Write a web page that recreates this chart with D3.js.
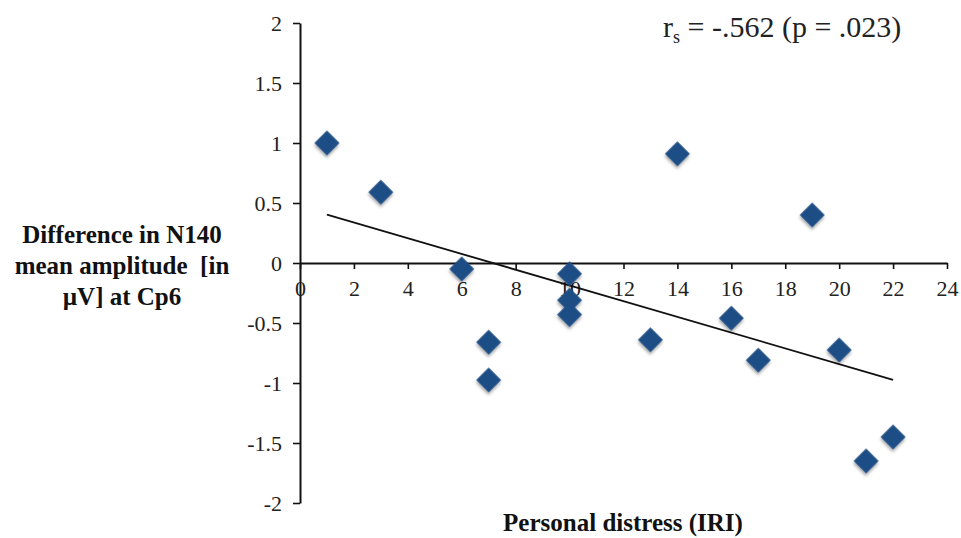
<!DOCTYPE html>
<html>
<head>
<meta charset="utf-8">
<script src="https://cdn.jsdelivr.net/npm/d3@7"></script>
<style>
  body { margin: 0; background: #fff; }
  svg { display: block; }
</style>
</head>
<body>
<div id="chart"></div>
<script>
// personal distress scores (x) and N140 difference at Cp6 (y)
const distress = [1, 3, 6, 7, 7, 10, 10, 10, 13, 14, 16, 17, 19, 20, 21, 22]
const amplitude = [1.0, 0.59, -0.05, -0.66, -0.975, -0.09, -0.31, -0.43, -0.64, 0.91, -0.46, -0.81, 0.4, -0.725, -1.65, -1.45]
const xTicks = [0, 2, 4, 6, 8, 10, 12, 14, 16, 18, 20, 22, 24]
const yTicks = [2, 1.5, 1, 0.5, 0, -0.5, -1, -1.5, -2]
const yLabelLines = ['Difference in N140', 'mean amplitude  [in', 'µV] at Cp6']

const width = 961
const height = 538
const serif = '"Liberation Serif", "Times New Roman", serif'

const svg = d3.select('#chart')
  .append('svg')
  .attr('width', width)
  .attr('height', height)

// soft shadow for the diamonds
const filter = svg.append('defs').append('filter')
  .attr('id', 'shadow')
  .attr('x', '-50%').attr('y', '-50%')
  .attr('width', '200%').attr('height', '200%')
filter.append('feDropShadow')
  .attr('dx', 1.5).attr('dy', 2)
  .attr('stdDeviation', 1.5)
  .attr('flood-color', '#000')
  .attr('flood-opacity', 0.35)

const x = d3.scaleLinear().domain([0, 24]).range([300, 947])
const y = d3.scaleLinear().domain([-2, 2]).range([503, 23])

// plain hyphen for negatives, like the original
const fmt = d => String(d)

// y axis
const yAxis = svg.append('g')
  .attr('transform', `translate(${x(0)},0)`)
  .call(d3.axisLeft(y).tickValues(yTicks).tickSize(7).tickSizeOuter(0).tickFormat(fmt))
yAxis.select('.domain').attr('stroke', '#111').attr('stroke-width', 2)
yAxis.selectAll('.tick line').attr('stroke', '#111').attr('stroke-width', 1.6)
yAxis.selectAll('.tick text')
  .attr('x', -18)
  .style('font-family', serif)
  .style('font-size', '22px')
  .attr('fill', '#222')

// x axis sits on y = 0
const xAxis = svg.append('g')
  .attr('transform', `translate(0,${y(0)})`)
  .call(d3.axisBottom(x).tickValues(xTicks).tickSize(6).tickSizeOuter(0).tickFormat(fmt))
xAxis.select('.domain').attr('stroke', '#111').attr('stroke-width', 2)
xAxis.selectAll('.tick line').attr('stroke', '#111').attr('stroke-width', 1.6)
xAxis.selectAll('.tick text')
  .attr('y', 17)
  .style('font-family', serif)
  .style('font-size', '22px')
  .attr('fill', '#222')

// least squares trend line
const mx = d3.mean(distress)
const my = d3.mean(amplitude)
const sxy = d3.sum(distress, (d, i) => (d - mx) * (amplitude[i] - my))
const sxx = d3.sum(distress, d => (d - mx) * (d - mx))
const slope = sxy / sxx
const intercept = my - slope * mx
const xExtent = d3.extent(distress)

svg.append('line')
  .attr('x1', x(xExtent[0]))
  .attr('y1', y(intercept + slope * xExtent[0]))
  .attr('x2', x(xExtent[1]))
  .attr('y2', y(intercept + slope * xExtent[1]))
  .attr('stroke', '#111')
  .attr('stroke-width', 1.8)

// diamond markers
svg.append('g')
  .selectAll('path')
  .data(distress)
  .join('path')
  .attr('d', d3.symbol(d3.symbolSquare, 310)())
  .attr('transform', (d, i) => `translate(${x(d)},${y(amplitude[i])}) rotate(45)`)
  .attr('fill', '#1f4e85')
  .attr('filter', 'url(#shadow)')

// correlation note
const note = svg.append('text')
  .attr('x', 663)
  .attr('y', 37)
  .style('font-family', serif)
  .style('font-size', '30px')
  .attr('fill', '#222')
note.append('tspan').text('r')
note.append('tspan').text('s').style('font-size', '18px').attr('dy', 6)
note.append('tspan').text(' = -.562 (p = .023)').attr('dy', -6)

// axis titles
svg.append('text')
  .attr('x', 623)
  .attr('y', 531)
  .attr('text-anchor', 'middle')
  .style('font-family', serif)
  .style('font-size', '25px')
  .style('font-weight', 'bold')
  .attr('fill', '#111')
  .text('Personal distress (IRI)')

svg.append('g')
  .selectAll('text')
  .data(yLabelLines)
  .join('text')
  .attr('x', 122)
  .attr('y', (d, i) => 243 + i * 31)
  .attr('text-anchor', 'middle')
  .style('font-family', serif)
  .style('font-size', '25px')
  .style('font-weight', 'bold')
  .style('white-space', 'pre')
  .attr('fill', '#111')
  .text(d => d)
</script>
</body>
</html>
